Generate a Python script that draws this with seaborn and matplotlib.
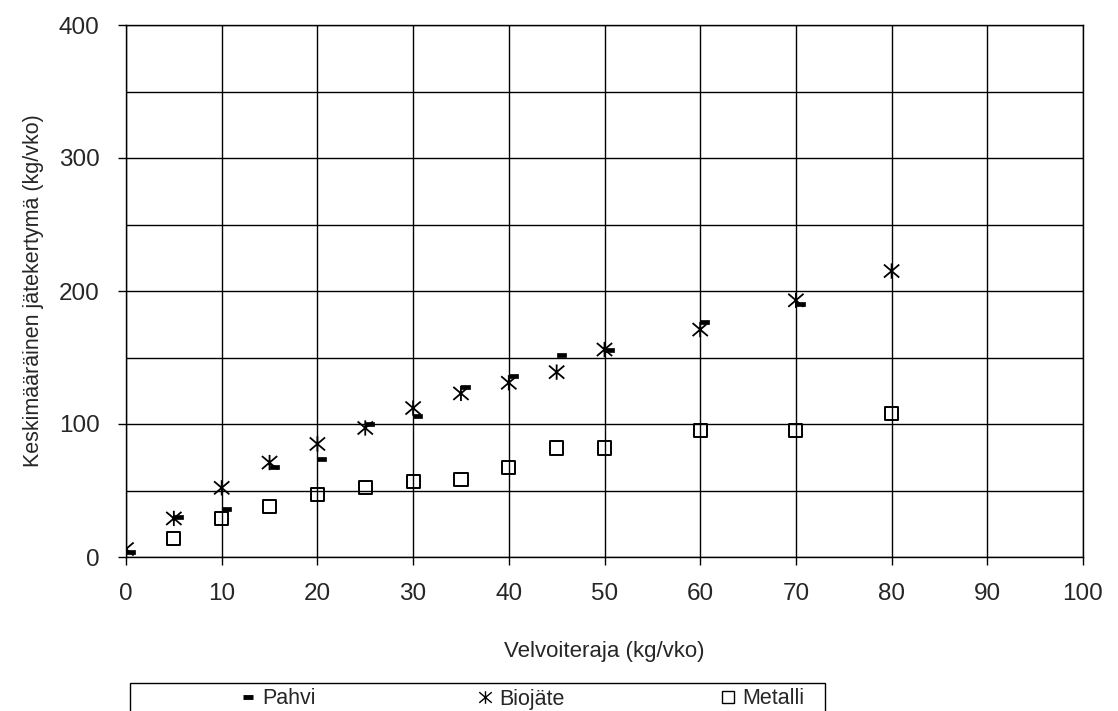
import numpy as np
import pandas as pd
import matplotlib
matplotlib.use("Agg")
import matplotlib.pyplot as plt
from matplotlib.path import Path
from matplotlib.patches import Rectangle
from matplotlib.lines import Line2D
import seaborn as sns

# Velvoiteraja (kg/vko) for each series
x_pahvi = [0, 5, 10, 15, 20, 25, 30, 35, 40, 45, 50, 60, 70]
y_pahvi = [4, 30, 36, 68, 74, 100, 106, 128, 136, 152, 156, 177, 190]

x_bio = [0, 5, 10, 15, 20, 25, 30, 35, 40, 45, 50, 60, 70, 80]
y_bio = [6, 29, 52, 71, 85, 97, 112, 123, 131, 139, 156, 171, 193, 215]

x_metalli = [5, 10, 15, 20, 25, 30, 35, 40, 45, 50, 60, 70, 80]
y_metalli = [14, 29, 38, 47, 52, 57, 58, 67, 82, 82, 95, 95, 108]

x_ticks = list(range(0, 101, 10))
y_ticks = [0, 100, 200, 300, 400]
series_names = ["Pahvi", "Biojäte", "Metalli"]

df = pd.concat([
    pd.DataFrame({"x": x_pahvi, "y": y_pahvi, "sarja": series_names[0]}),
    pd.DataFrame({"x": x_bio, "y": y_bio, "sarja": series_names[1]}),
    pd.DataFrame({"x": x_metalli, "y": y_metalli, "sarja": series_names[2]}),
])

sns.set_style("white")
plt.rcParams["font.family"] = ["Liberation Sans", "DejaVu Sans"]

# small filled dash sitting to the right of the data point
dash = Path([(0.0, -0.22), (1.0, -0.22), (1.0, 0.22), (0.0, 0.22), (0.0, -0.22)],
            [Path.MOVETO, Path.LINETO, Path.LINETO, Path.LINETO, Path.CLOSEPOLY])
# X with a vertical stroke (star marker)
star = Path([(-1, -0.85), (1, 0.85), (-1, 0.85), (1, -0.85), (0, -1), (0, 1)],
            [Path.MOVETO, Path.LINETO, Path.MOVETO, Path.LINETO, Path.MOVETO, Path.LINETO])

fig = plt.figure(figsize=(11.18, 7.11), dpi=100)
ax = fig.add_axes([126 / 1118, 1 - 557 / 711, (1083 - 126) / 1118, (557 - 25) / 711])

d = df[df.sarja == "Pahvi"]
sns.scatterplot(data=d, x="x", y="y", ax=ax, marker=dash, s=13 ** 2,
                color="black", edgecolor="black", linewidth=0.5, legend=False, zorder=3)
d = df[df.sarja == "Biojäte"]
ax.scatter(d.x, d.y, marker=star, s=11 ** 2, facecolors="none",
           edgecolors="black", linewidths=1.3, zorder=3)
d = df[df.sarja == "Metalli"]
sns.scatterplot(data=d, x="x", y="y", ax=ax, marker="s", s=9.5 ** 2,
                facecolor="none", edgecolor="black", linewidth=1.4, legend=False, zorder=3)

ax.set_xlim(0, 100)
ax.set_ylim(0, 400)
ax.set_xticks(x_ticks)
ax.set_yticks(y_ticks)
ax.set_yticks([50, 150, 250, 350], minor=True)
ax.grid(True, which="major", axis="both", color="black", linewidth=1.0)
ax.grid(True, which="minor", axis="y", color="black", linewidth=1.0)
ax.tick_params(axis="both", which="major", direction="out", length=6, width=1,
               color="black", labelsize=17.5, pad=13, bottom=True, left=True)
ax.tick_params(axis="y", which="minor", length=0)
for sp in ax.spines.values():
    sp.set_color("black")
    sp.set_linewidth(1.0)

ax.set_xlabel("Velvoiteraja (kg/vko)", fontsize=16, labelpad=26)
ax.set_ylabel("Keskimääräinen jätekertymä (kg/vko)", fontsize=15.5, labelpad=11)

# legend box, its lower edge running past the figure bottom
fig.patches.append(Rectangle((130 / 1118, -0.05), (825 - 130) / 1118, 1 - 683 / 711 + 0.05,
                             transform=fig.transFigure, fill=False, edgecolor="black",
                             linewidth=1.0, clip_on=False))
handles = [
    Line2D([], [], linestyle="none", marker="_", markersize=7, markeredgewidth=3.5, color="black"),
    Line2D([], [], linestyle="none", marker=star, markersize=9, markeredgewidth=1.0,
           markerfacecolor="none", color="black"),
    Line2D([], [], linestyle="none", marker="s", markersize=8, markeredgewidth=1.0,
           markerfacecolor="none", color="black"),
]
legend_left = [239, 476, 719]
for h, name, xl in zip(handles, series_names, legend_left):
    fig.legend([h], [name], loc="center left",
               bbox_to_anchor=(xl / 1118, 1 - 699 / 711), frameon=False,
               fontsize=15.5, handlelength=0.8, handletextpad=0.3,
               borderpad=0, borderaxespad=0)

fig.savefig("out.png", dpi=100)
